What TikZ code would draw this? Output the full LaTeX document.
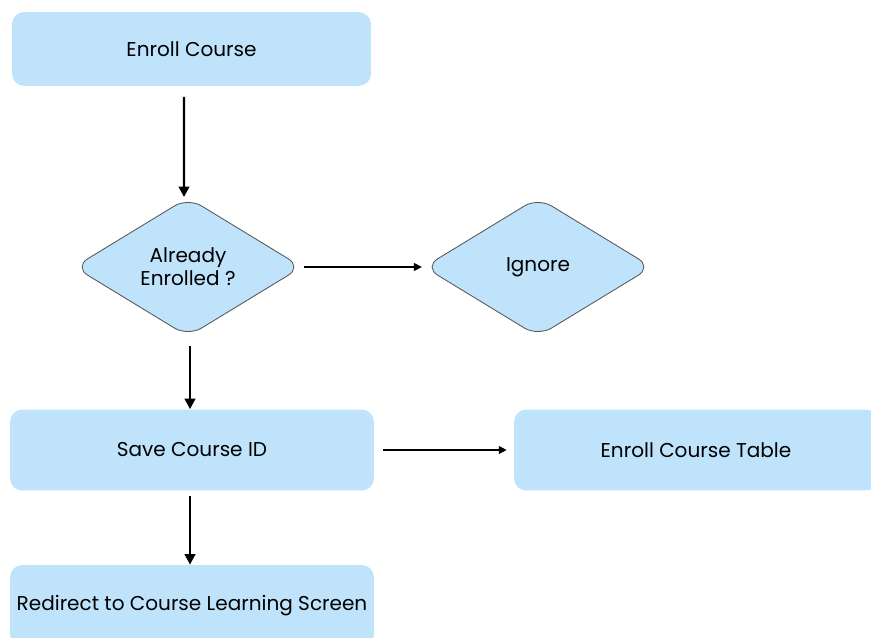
\documentclass[tikz,border=0pt]{standalone}
\usepackage{fontspec}
\setmainfont{Poppins}
\usetikzlibrary{arrows.meta}
\usetikzlibrary{shapes.geometric}
\definecolor{boxblue}{HTML}{C0E3FC}
\definecolor{edgegray}{HTML}{5A5A5A}

\begin{document}
\begin{tikzpicture}[x=0.02cm,y=-0.02cm,
    stepbox/.style={fill=boxblue, rounded corners=7pt, minimum width=7.28cm, minimum height=1.62cm, font=\fontsize{11.4}{13}\selectfont},
    askbox/.style={diamond, draw=edgegray, line width=0.5pt, fill=boxblue, rounded corners=9pt, minimum width=4.56cm, minimum height=2.78cm, align=center, inner sep=0pt, font=\fontsize{11.4}{13}\selectfont},
    bigarrow/.style={-{Triangle[length=6pt,width=6pt]}, line width=1.4pt},
    smallarrow/.style={-{Triangle[length=4.5pt,width=4.5pt]}, line width=0.8pt}]
        \useasboundingbox (0,0) rectangle (871,638);
        % boxes
        \node[stepbox, minimum width=7.18cm, minimum height=1.48cm] (enroll) at (191.5,49) {Enroll Course};
        \node[askbox] (enrolled) at (188,267) {Already\\Enrolled ?};
        \node[askbox] (ignore) at (538,267) {Ignore};
        \node[stepbox] (saveid) at (192,450) {Save Course ID};
        \node[stepbox] (enrolltable) at (696,450) {Enroll Course Table};
        \node[stepbox] (redirect) at (192,605.5) {Redirect to Course Learning Screen};
        % arrows
        \draw[bigarrow, shorten <=6pt, shorten >=0pt] ([xshift=-0.15cm]enroll.south) -- ([xshift=-0.08cm]enrolled.north);
        \draw[smallarrow, shorten <=1pt, shorten >=1pt] (enrolled.east) -- (ignore.west);
        \draw[bigarrow, shorten <=5pt, shorten >=0pt] ([xshift=0.04cm]enrolled.south) -- ([xshift=0.04cm]enrolled.south |- saveid.north);
        \draw[smallarrow, shorten <=5pt, shorten >=4pt] (saveid.east) -- (enrolltable.west);
        \draw[bigarrow, shorten <=3pt, shorten >=0pt] ([xshift=-0.04cm]saveid.south) -- ([xshift=-0.04cm]redirect.north);
    \end{tikzpicture}
\end{document}
